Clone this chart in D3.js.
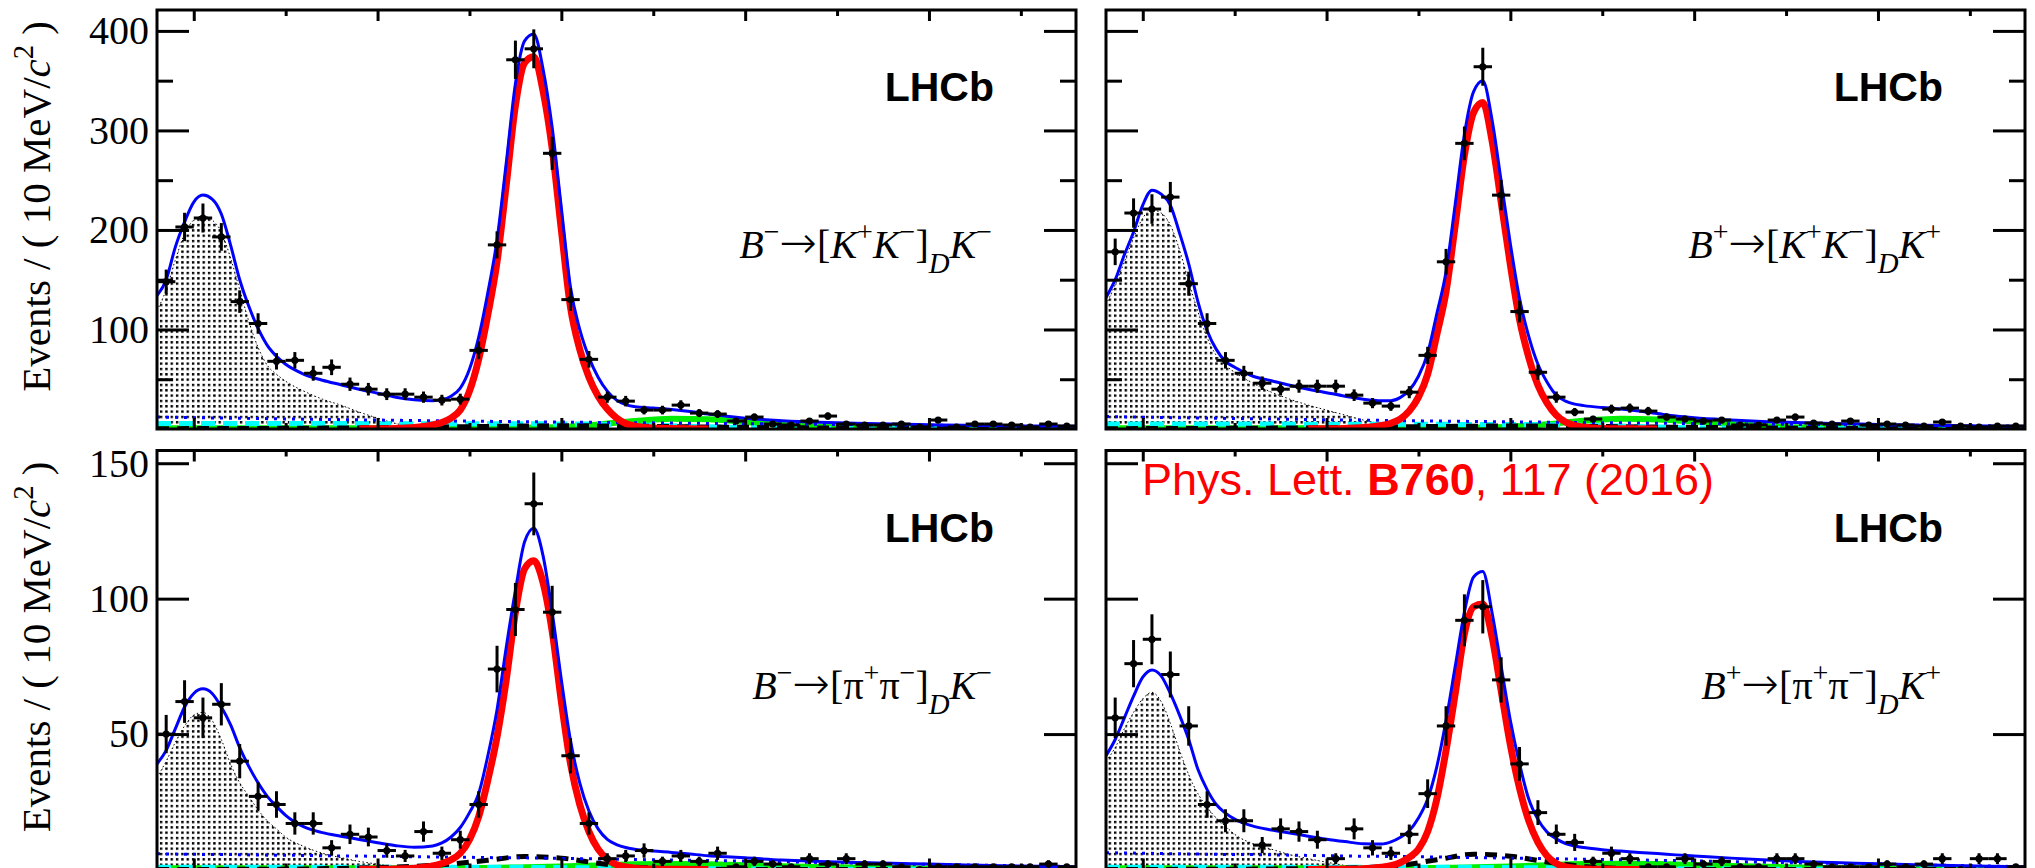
<!DOCTYPE html>
<html><head><meta charset="utf-8">
<script src="https://cdn.jsdelivr.net/npm/d3@7"></script>
<style>html,body{margin:0;padding:0;background:#fff;}svg{display:block;}</style>
</head><body>
<script>
// ---------- categories / grids (MeV/c^2) ----------
const binCenters = [5085,5095,5105,5115,5125,5135,5145,5155,5165,5175,5185,5195,5205,5215,5225,5235,5245,5255,5265,5275,5285,5295,5305,5315,5325,5335,5345,5355,5365,5375,5385,5395,5405,5415,5425,5435,5445,5455,5465,5475,5485,5495,5505,5515,5525,5535,5545,5555,5565,5575];
const xTot = [5080,5085,5090,5095,5100,5105,5110,5115,5120,5125,5130,5135,5140,5145,5150,5160,5170,5180,5190,5200,5210,5220,5230,5235,5240,5245,5250,5255,5260,5265,5270,5275,5280,5285,5290,5295,5300,5305,5310,5315,5320,5325,5330,5335,5340,5350,5360,5370,5380,5390,5400,5420,5440,5460,5480,5500,5520,5540,5560,5580];
const xSig = [5190,5200,5210,5220,5225,5230,5235,5240,5245,5250,5255,5260,5265,5270,5275,5280,5285,5290,5295,5300,5305,5310,5315,5320,5325,5330,5335,5340,5350,5360,5380];
const xPart = [5080,5085,5090,5095,5100,5105,5110,5115,5120,5125,5130,5135,5140,5145,5150,5160,5170,5180,5190,5200,5210,5220,5230,5240,5250];
const xSmall = [5080,5100,5120,5140,5160,5180,5200,5220,5240,5260,5280,5300,5320,5340,5360,5380,5400,5420,5440,5460,5480,5500,5520,5540,5560,5580];

// ---------- tick labels ----------
const xMajorTicks = [5100,5200,5300,5400,5500];
const xMinorTicks = [5150,5250,5350,5450,5550];
const yMajorTop = [100,200,300,400];
const yMinorTop = [50,150,250,350];
const yMajorBottom = [50,100,150];

// ---------- B- -> [K+K-]D K-  (top left) ----------
const dataTL = [148,203,212,193,128,106,68,69,56,62,45,40,35,35,32,29,30,79,185,371,382,277,130,70,32,28,19,19,24,16,15,8,12,5,4,8,13,5,4,4,5,2,9,2,5,5,4,2,5,3];
const totalTL = [134,150,183,208,228,235,231,216,185,150,123,101,84,73,65,55,49,44.5,40,36,32,29.5,28.5,29.5,33,41,60,92,137,190,267,347,390,397,362,303,222,142,100,72,52,38,29,24.5,22.5,21,19.5,17.5,15,12.7,10.8,8.4,6.8,5.8,5,4.3,3.7,3.2,2.9,2.7];
const signalTL = [0.2,0.3,0.6,1.5,2.5,4,6.5,11,19,38,70,115,168,245,325,368,374,340,282,200,122,80,52,33,20,11,5.5,2.8,0.9,0.4,0.1];
const partRecoTL = [119,140,170,196,210,214,210,198,172,140,108,82,64,55,48,38,30,24,17,11,5.5,2,0.6,0.1,0];
const combTL = [12,11.4,10.9,10.4,9.9,9.4,9.0,8.5,8.1,7.7,7.3,7.0,6.6,6.3,6.0,5.6,5.3,5.0,4.7,4.4,4.1,3.8,3.5,3.2,2.9,2.6];
const cyanTL = [5.6,5.6,5.6,5.5,5.5,5.5,5.4,5.4,5.3,5.3,5.2,5.1,4.8,4.2,3.2,2.2,1.4,0.8,0.5,0.3,0.2,0.1,0.1,0.05,0,0];
const blackTL = [0.3,0.4,0.5,0.6,0.8,1.0,1.3,1.7,2.1,2.6,3.0,3.2,3.1,2.8,2.4,2.0,1.7,1.4,1.1,0.9,0.7,0.5,0.4,0.3,0.2,0.2];
const greenTL = [0.8,0.8,0.8,0.8,0.8,0.8,0.8,0.8,0.9,1.0,1.3,2.0,4.5,8.0,10.2,9.8,7.0,4.0,2.2,1.2,0.8,0.6,0.5,0.4,0.4,0.3];

// ---------- B+ -> [K+K-]D K+  (top right) ----------
const dataTR = [178,217,221,233,146,106,69,56,46,40,43,43,43,34,26,23,37,74,168,287,364,235,118,57,32,17,10,20,21,18,12,10,8,9,4,4,9,12,6,5,8,4,5,4,3,7,3,2,3,3];
const totalTR = [132,150,175,198,225,240,236,225,197,166,128,99,80,68,62,53,48.5,44,40,36.5,33,30,28.5,28.5,31.5,39,53,76,116,158,226,296,339,350,311,249,186,131,93,65,47,34,28,25,23.5,21.5,20,18,15.5,13,11.2,9,7.4,6.3,5.4,4.6,3.9,3.4,3,2.7];
const signalTR = [0.2,0.3,0.6,1.4,2.3,3.6,5.8,10,18,32,55,95,138,205,275,318,328,290,228,165,110,72,44,26,14,7,3.5,1.8,0.6,0.3,0.1];
const partRecoTR = [125,145,168,192,212,220,217,205,180,148,118,92,74,64,57,46,37,30,24,19,14,9,5,2,0.5];
const combTR = [12.5,11.9,11.3,10.8,10.3,9.8,9.3,8.9,8.4,8.0,7.6,7.2,6.9,6.5,6.2,5.8,5.5,5.2,4.9,4.6,4.3,4.0,3.7,3.4,3.1,2.8];
const cyanTR = [5.0,5.0,5.0,4.9,4.9,4.9,4.8,4.8,4.7,4.7,4.6,4.5,4.2,3.7,2.9,2.0,1.3,0.8,0.5,0.3,0.2,0.1,0.1,0.05,0,0];
const blackTR = [0.3,0.4,0.5,0.6,0.8,1.0,1.3,1.7,2.1,2.5,2.8,3.0,2.9,2.6,2.3,1.9,1.6,1.3,1.0,0.8,0.6,0.5,0.4,0.3,0.2,0.2];
const greenTR = [0.8,0.8,0.8,0.8,0.8,0.8,0.8,0.8,0.8,1.0,1.3,2.2,4.8,8.3,10.2,9.6,7.5,5.0,2.8,1.5,0.9,0.6,0.5,0.4,0.4,0.3];

// ---------- B- -> [pi+pi-]D K-  (bottom left) ----------
const dataBL = [50,62,56,61,40,27,24,17,17,8,13,12,7,5,14,6,11,24,74,96,135,95,42,17,4,5,7,3,5,3,6,1,3,2,1,4,2,4,2,2,1,0,1,1,1,1,1,1,2,1];
const totalBL = [39,44,52,60,65,66.7,65,60,53.5,45,38,32,27,23.3,20,15.7,13.6,12.3,11.1,9.9,8.8,8.2,8.7,9.8,12,15.5,21,28,42,59,82,103,121,126,116,95,70,47.5,32,21.6,15,11.1,9.2,8.1,7.5,6.8,6.3,5.7,5.1,4.7,4.3,3.5,3,2.6,2.3,2,1.7,1.4,1.2,1];
const signalBL = [0.1,0.1,0.2,0.5,0.8,1.3,2.2,3.6,6,11,19.5,33,49,70,95,111,114,106,88,62,39,24,14,7.5,3.8,1.8,0.9,0.5,0.2,0.1,0];
const partRecoBL = [34,40,47,53,57,58,55,48,39,32,27,22,18,15,12,8.5,6,4.4,3,2,1,0.4,0.1,0,0];
const combBL = [5.8,5.6,5.5,5.3,5.2,5.0,4.9,4.7,4.6,4.4,4.3,4.1,3.9,3.7,3.5,3.3,3.1,2.9,2.6,2.4,2.1,1.9,1.7,1.5,1.3,1.1];
const cyanBL = [0.8,0.8,0.8,0.8,0.8,0.8,0.8,0.8,0.8,0.8,0.8,0.7,0.6,0.5,0.4,0.3,0.2,0.15,0.1,0.1,0.05,0.05,0,0,0,0];
const blackBL = [0,0,0.05,0.1,0.2,0.4,0.7,1.2,2.0,3.4,4.8,4.2,2.3,0.9,0.3,0.1,0,0,0,0,0,0,0,0,0,0];
const greenBL = [0.5,0.5,0.5,0.5,0.5,0.5,0.5,0.5,0.5,0.6,0.8,1.1,1.5,1.9,2.0,1.9,1.6,1.2,0.9,0.7,0.5,0.4,0.3,0.3,0.2,0.2];

// ---------- B+ -> [pi+pi-]D K+  (bottom right) ----------
const dataBR = [56,76,85,72,53,24,18,18,9,15,14,11,4,15,8,6,13,28,53,92,97,70,39,21,13,10,3,6,4,1,1,4,2,3,1,1,4,4,2,1,1,1,2,1,2,4,0,4,4,1];
const totalBR = [42,48,56,64,71,73.7,71.5,65,57,48,37,29.5,24,20.8,18.6,16,14.6,13.5,12.3,11.2,10.3,9.5,9.4,10.2,11.8,14.3,19,26,38,55,75,95,108,110,95,75,55,39,26,18.5,13.8,11.3,9.6,8.7,8.1,7.3,6.8,6.3,5.9,5.4,5.0,4.2,3.5,2.9,2.5,2.1,1.8,1.5,1.2,1.0];
const signalBR = [0,0.1,0.1,0.3,0.5,0.8,1.4,2.5,4.5,7.5,14,26,44,65,87,97,98,86,66,46,30,18,10,5,2.2,1,0.5,0.2,0.1,0,0];
const partRecoBR = [40,45,52,58,63,65.4,62,54,44,35,28,23,19,16,13,9.5,7.5,5.5,4,2.7,1.5,0.7,0.2,0,0];
const combBR = [6.2,6.0,5.8,5.6,5.5,5.3,5.1,4.9,4.8,4.6,4.4,4.2,4.0,3.8,3.6,3.4,3.2,2.9,2.7,2.4,2.2,2.0,1.7,1.5,1.3,1.0];
const cyanBR = [0.8,0.8,0.8,0.8,0.8,0.8,0.8,0.8,0.8,0.8,0.8,0.7,0.6,0.5,0.4,0.3,0.2,0.15,0.1,0.1,0.05,0.05,0,0,0,0];
const blackBR = [0,0,0.05,0.1,0.15,0.25,0.4,0.7,1.5,3.6,5.6,4.9,2.8,1.1,0.4,0.1,0,0,0,0,0,0,0,0,0,0];
const greenBR = [0.5,0.5,0.5,0.5,0.5,0.5,0.5,0.5,0.5,0.6,0.8,1.1,1.6,2.0,2.1,2.0,1.7,1.3,1.0,0.7,0.5,0.4,0.3,0.3,0.2,0.2];

// ---------- texts ----------
const decayTL = [["B","i"],["−","sup"],["→","arr"],["[",""],["K","i"],["+","sup"],["K","i"],["−","sup"],["]",""],["D","sub"],["K","i"],["−","sup"]];
const decayTR = [["B","i"],["+","sup"],["→","arr"],["[",""],["K","i"],["+","sup"],["K","i"],["−","sup"],["]",""],["D","sub"],["K","i"],["+","sup"]];
const decayBL = [["B","i"],["−","sup"],["→","arr"],["[",""],["π",""],["+","sup"],["π",""],["−","sup"],["]",""],["D","sub"],["K","i"],["−","sup"]];
const decayBR = [["B","i"],["+","sup"],["→","arr"],["[",""],["π",""],["+","sup"],["π",""],["−","sup"],["]",""],["D","sub"],["K","i"],["+","sup"]];
const yTitle = [["Events / ( 10 MeV/",""],["c","i"],["2","sup"],[" )",""]];
const expLabel = "LHCb";
const refLabel = [["Phys. Lett. ",""],["B760","b"],[", 117 (2016)",""]];

// ---------- layout ----------
const SERIF = "'Liberation Serif','Times New Roman',Times,serif";
const SANS = "'Liberation Sans',Arial,Helvetica,sans-serif";
const panels = [
  {key:"TL", x0:157, x1:1076, y0:10, y1:429, ymax:421, showY:true, yMaj:yMajorTop, yMin:yMinorTop,
   data:dataTL, total:totalTL, signal:signalTL, part:partRecoTL, comb:combTL, cyan:cyanTL, black:blackTL, green:greenTL, decay:decayTL},
  {key:"TR", x0:1106, x1:2025, y0:10, y1:429, ymax:421, showY:false, yMaj:yMajorTop, yMin:yMinorTop,
   data:dataTR, total:totalTR, signal:signalTR, part:partRecoTR, comb:combTR, cyan:cyanTR, black:blackTR, green:greenTR, decay:decayTR},
  {key:"BL", x0:157, x1:1076, y0:450.5, y1:869.5, ymax:154.7, showY:true, yMaj:yMajorBottom, yMin:[],
   data:dataBL, total:totalBL, signal:signalBL, part:partRecoBL, comb:combBL, cyan:cyanBL, black:blackBL, green:greenBL, decay:decayBL},
  {key:"BR", x0:1106, x1:2025, y0:450.5, y1:869.5, ymax:154.7, showY:false, yMaj:yMajorBottom, yMin:[],
   data:dataBR, total:totalBR, signal:signalBR, part:partRecoBR, comb:combBR, cyan:cyanBR, black:blackBR, green:greenBR, decay:decayBR, ref:true}
];

const svg = d3.select("body").append("svg").attr("width",2035).attr("height",868);
const defs = svg.append("defs");
const pat = defs.append("pattern").attr("id","dots").attr("patternUnits","userSpaceOnUse")
  .attr("width",5.33).attr("height",5.33);
pat.append("rect").attr("x",0).attr("y",0).attr("width",2.4).attr("height",2.4).attr("fill","#000");

function richText(sel, segs, base){
  let shift = 0;
  segs.forEach(([t,s])=>{
    const ts = sel.append("tspan").text(t);
    let target = 0, fs = base;
    if (s==="sup"){ target = -0.42*base; fs = 0.7*base; }
    if (s==="sub"){ target = 0.38*base; fs = 0.72*base; }
    if (s==="arr"){ fs = 1.12*base; ts.attr("font-family","'DejaVu Sans',sans-serif").attr("font-weight",200); }
    ts.attr("font-size", fs);
    if (s==="i" || s==="sub") ts.attr("font-style","italic");
    if (s==="b") ts.attr("font-weight","bold");
    const dy = target - shift;
    if (dy !== 0) ts.attr("dy", dy);
    shift = target;
  });
}

panels.forEach(p=>{
  const x = d3.scaleLinear().domain([5080,5580]).range([p.x0,p.x1]);
  const y = d3.scaleLinear().domain([0,p.ymax]).range([p.y1,p.y0]);
  const g = svg.append("g");
  const clipId = "clip"+p.key;
  defs.append("clipPath").attr("id",clipId).append("rect")
    .attr("x",p.x0).attr("y",p.y0).attr("width",p.x1-p.x0).attr("height",p.y1-p.y0);
  const plot = g.append("g").attr("clip-path",`url(#${clipId})`);

  const pairs = (xs, ys) => xs.map((v,i)=>[v, ys[i]]);
  const line = d3.line().x(d=>x(d[0])).y(d=>y(d[1])).curve(d3.curveMonotoneX);
  const area = d3.area().x(d=>x(d[0])).y0(y(0)).y1(d=>y(d[1])).curve(d3.curveMonotoneX);

  // partially reconstructed background (dotted fill)
  plot.append("path").attr("d", area(pairs(xPart,p.part))).attr("fill","url(#dots)");
  plot.append("path").attr("d", line(pairs(xPart,p.part))).attr("fill","none")
    .attr("stroke","#000").attr("stroke-width",1).attr("stroke-dasharray","1.5 2.5");

  // small components
  plot.append("path").attr("d", line(pairs(xSmall,p.green))).attr("fill","none")
    .attr("stroke","#00ee00").attr("stroke-width",6);
  plot.append("path").attr("d", line(pairs(xSmall,p.cyan))).attr("fill","none")
    .attr("stroke","#00ffff").attr("stroke-width",5).attr("stroke-dasharray","14 8");
  plot.append("path").attr("d", line(pairs(xSmall,p.black))).attr("fill","none")
    .attr("stroke","#000").attr("stroke-width",5).attr("stroke-dasharray","12 8");
  plot.append("path").attr("d", line(pairs(xSmall,p.comb))).attr("fill","none")
    .attr("stroke","#0000ff").attr("stroke-width",3).attr("stroke-dasharray","3 6");

  // signal
  plot.append("path").attr("d", line(pairs(xSig,p.signal))).attr("fill","none")
    .attr("stroke","#ff0000").attr("stroke-width",7).attr("stroke-linejoin","round");
  // total fit
  plot.append("path").attr("d", line(pairs(xTot,p.total))).attr("fill","none")
    .attr("stroke","#0000ff").attr("stroke-width",3).attr("stroke-linejoin","round");

  // data points
  const pts = plot.append("g");
  p.data.forEach((n,i)=>{
    const c = binCenters[i], e = Math.sqrt(n);
    pts.append("line").attr("x1",x(c-5)).attr("x2",x(c+5)).attr("y1",y(n)).attr("y2",y(n))
      .attr("stroke","#000").attr("stroke-width",3);
    pts.append("line").attr("x1",x(c)).attr("x2",x(c)).attr("y1",y(Math.max(0,n-e))).attr("y2",y(n+e))
      .attr("stroke","#000").attr("stroke-width",3);
    pts.append("circle").attr("cx",x(c)).attr("cy",y(n)).attr("r",3.6).attr("fill","#000");
  });

  // axes (ticks inward, ROOT style)
  const styleAxis = a => { a.select(".domain").remove(); a.selectAll(".tick line").attr("stroke","#000").attr("stroke-width",3); };
  const ax = [
    [d3.axisTop(x).tickValues(xMajorTicks).tickSize(-11).tickFormat(""), `translate(0,${p.y0})`],
    [d3.axisTop(x).tickValues(xMinorTicks).tickSize(-6).tickFormat(""), `translate(0,${p.y0})`],
    [d3.axisBottom(x).tickValues(xMajorTicks).tickSize(-11).tickFormat(""), `translate(0,${p.y1})`],
    [d3.axisBottom(x).tickValues(xMinorTicks).tickSize(-6).tickFormat(""), `translate(0,${p.y1})`],
    [d3.axisRight(y).tickValues(p.yMaj).tickSize(-32).tickFormat(""), `translate(${p.x1},0)`],
    [d3.axisRight(y).tickValues(p.yMin).tickSize(-16).tickFormat(""), `translate(${p.x1},0)`],
    [d3.axisLeft(y).tickValues(p.yMin).tickSize(-16).tickFormat(""), `translate(${p.x0},0)`],
    [d3.axisLeft(y).tickValues(p.yMaj).tickSize(-32).tickPadding(8).tickFormat(p.showY ? d3.format("d") : ""), `translate(${p.x0},0)`]
  ];
  ax.forEach(([a,t])=>{
    const ag = g.append("g").attr("transform",t).call(a);
    styleAxis(ag);
    ag.attr("font-family",SERIF).attr("font-size",40);
    ag.selectAll(".tick text").attr("fill","#000");
  });

  // frame
  g.append("rect").attr("x",p.x0).attr("y",p.y0).attr("width",p.x1-p.x0).attr("height",p.y1-p.y0)
    .attr("fill","none").attr("stroke","#000").attr("stroke-width",3);

  // LHCb
  g.append("text").attr("x",p.x1-82).attr("y",p.y0+91).attr("text-anchor","end")
    .attr("font-family",SANS).attr("font-weight","bold").attr("font-size",41).text(expLabel);
  // decay label
  const dt = g.append("text").attr("x",p.x1-84).attr("y",p.y0+248).attr("text-anchor","end")
    .attr("font-family",SERIF).attr("font-size",40);
  richText(dt, p.decay, 40);

  // y title
  if (p.showY){
    const yt = g.append("text").attr("transform",`translate(50,${p.y0+11}) rotate(-90)`)
      .attr("text-anchor","end").attr("font-family",SERIF).attr("font-size",41);
    richText(yt, yTitle, 41);
  }
  if (p.ref){
    const rt = g.append("text").attr("x",p.x0+36).attr("y",p.y0+44.5).attr("fill","#ff0000")
      .attr("font-family",SANS).attr("font-size",45);
    richText(rt, refLabel, 45);
  }
});
</script>
</body></html>
